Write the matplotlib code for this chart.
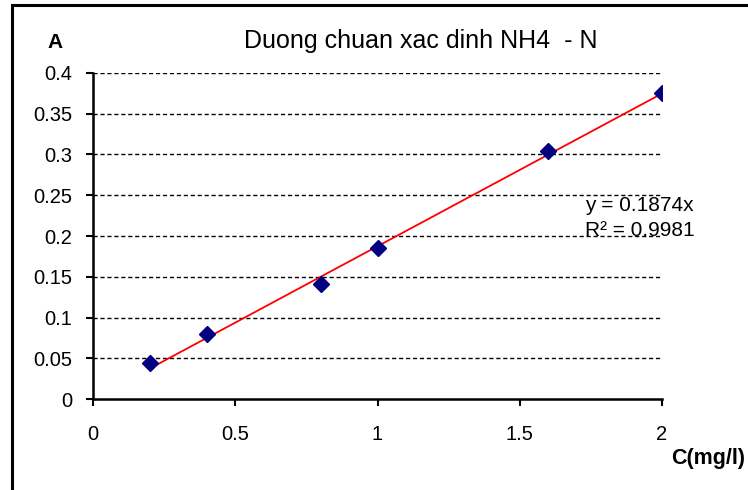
import matplotlib
matplotlib.use('Agg')
import numpy as np
from matplotlib import pyplot as plt
from matplotlib.patches import Rectangle

plt.rcParams['font.family'] = ['Liberation Sans', 'DejaVu Sans']

conc = [0.2, 0.4, 0.8, 1.0, 1.6, 2.0]
absorb = [0.044, 0.080, 0.141, 0.185, 0.304, 0.376]
slope = 0.1874
r2 = 0.9981
yticks = [0, 0.05, 0.1, 0.15, 0.2, 0.25, 0.3, 0.35, 0.4]
xticks = [0, 0.5, 1, 1.5, 2]

fig = plt.figure(figsize=(7.48, 4.9), dpi=100)
ax = fig.add_axes([93/748, 1 - 399/490, (662 - 93)/748, (399 - 73)/490])

# frame around the chart
fig.patches.append(Rectangle((12/748, -0.1), 1.2, 1 - 5.5/490 + 0.1,
                             transform=fig.transFigure, fill=False,
                             edgecolor='black', linewidth=2.2))

for yv in yticks[1:]:
    ax.plot([0, 2], [yv, yv], color='black', linestyle=(0, (3, 2)), linewidth=1, zorder=1)

xfit = np.array([conc[0], conc[-1]])
ax.plot(xfit, slope * xfit, color='red', linewidth=1.3, zorder=2)
ax.plot(conc, absorb, linestyle='none', marker='D', markersize=8.5,
        color='#000080', zorder=3)

ax.set_xlim(0, 2)
ax.set_ylim(0, 0.4)
ax.set_xticks(xticks)
ax.set_xticklabels(['0', '0.5', '1', '1.5', '2'])
ax.set_yticks(yticks)
ax.set_yticklabels(['0', '0.05', '0.1', '0.15', '0.2', '0.25', '0.3', '0.35', '0.4'])
ax.tick_params(axis='x', direction='out', length=5, width=1.5, pad=14, labelsize=14.5)
ax.tick_params(axis='y', direction='out', length=5, width=1.5, pad=10, labelsize=14.5)
ax.spines['top'].set_visible(False)
ax.spines['right'].set_visible(False)
ax.spines['left'].set_linewidth(1.8)
ax.spines['bottom'].set_linewidth(1.8)
ax.spines['left'].set_zorder(4)
ax.spines['bottom'].set_zorder(4)

fig.text(421/748, 1 - 41/490, 'Duong chuan xac dinh NH4  - N', ha='center', va='center', fontsize=18)
fig.text(55/748, 1 - 43/490, 'A', ha='center', va='center', fontsize=15, fontweight='bold')
fig.text(708/748, 1 - 458/490, 'C(mg/l)', ha='center', va='center', fontsize=15.5, fontweight='bold')
fig.text(585/748, 1 - 205/490, 'y = %.4fx' % slope, ha='left', va='center', fontsize=15)
fig.text(585/748, 1 - 230/490, 'R\u00b2 = %.4f' % r2, ha='left', va='center', fontsize=15)

fig.savefig('out.png', dpi=100)
